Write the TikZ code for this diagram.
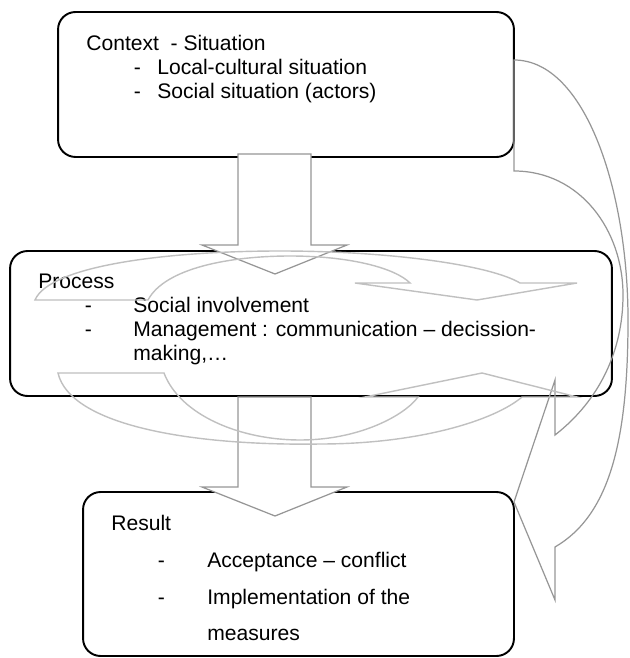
\documentclass[tikz,border=0pt]{standalone}
\usepackage{fontspec}
\setmainfont{Liberation Sans}
\usepackage{tikz}
\usetikzlibrary{positioning}
\definecolor{blockgray}{RGB}{150,150,150}
\definecolor{cyclegray}{RGB}{192,192,192}

\begin{document}
\begin{tikzpicture}[x=0.02cm,y=-0.02cm,
    box/.style={rectangle,rounded corners=0.35cm,draw=black,line width=1.1pt,fill=white,inner sep=0pt},
    txt/.style={anchor=base west,inner sep=0pt,font=\fontsize{12}{14}\selectfont},
    blockarrow/.style={draw=blockgray,fill=white,line width=0.7pt,line join=miter},
    cyclearrow/.style={draw=cyclegray,line width=0.8pt}
]
    \useasboundingbox (0,0) rectangle (629,658);

    % Boxes
    \node[box,minimum width=9.12cm,minimum height=2.9cm] (context) at (286,84.5) {};
    \node[box,minimum width=12.04cm,minimum height=2.9cm] (process) at (311,323.5) {};
    \node[box,minimum width=8.62cm,minimum height=3.28cm] (result) at (298.5,574) {};

    % Texts
    \node[txt] (ctxtitle) at (86,50.5) {Context\ \ - Situation};
    \node[txt] (ctxlocal) at (133.5,74.5) {\makebox[0.47cm][l]{-}Local-cultural situation};
    \node[txt] (ctxsocial) at (133.5,98.5) {\makebox[0.47cm][l]{-}Social situation (actors)};

    \node[txt] (proctitle) at (38,288.5) {Process};
    \node[txt] (procsocial) at (84.5,312.5) {\makebox[0.97cm][l]{-}Social involvement};
    \node[txt] (procmgmt) at (84.5,336.5) {\makebox[0.97cm][l]{-}Management : communication – decission-};
    \node[txt] (procmaking) at (133,360.5) {making,…};

    \node[txt] (restitle) at (111,530.5) {Result};
    \node[txt] (resaccept) at (157.5,567.5) {\makebox[0.99cm][l]{-}Acceptance – conflict};
    \node[txt] (resimpl) at (157.5,604.5) {\makebox[0.99cm][l]{-}Implementation of the};
    \node[txt] (resmeasures) at (207,640.5) {measures};

    % Block arrows between the boxes
    \draw[blockarrow] (238,154) -- (238,245) -- (202,245) -- (275,274) -- (347,245) -- (311,245) -- (311,154) -- cycle;
    \draw[blockarrow] (238,397) -- (238,487) -- (202,487) -- (275,516) -- (347,487) -- (311,487) -- (311,397) -- cycle;

    % Feedback arrow on the right
    \draw[blockarrow,fill=none] (514,60) .. controls (585,60) and (628,190) .. (628,320)
        .. controls (628,440) and (610,515) .. (555,547) -- (555,600) -- (514,502) -- (555,380) -- (555,435)
        .. controls (600,400) and (623,350) .. (623,295) .. controls (623,230) and (580,171) .. (514,171) -- cycle;

    % Cycle inside the process
    \draw[cyclearrow] (35,300) .. controls (50,265) and (170,251) .. (280,251) .. controls (390,251) and (490,265) .. (520,283)
        -- (577,283) -- (477,300) -- (355,283) -- (410,283)
        .. controls (395,268) and (350,256) .. (290,256) .. controls (230,256) and (165,268) .. (148,300) -- cycle;
    \draw[cyclearrow] (58,373) .. controls (70,425) and (190,446) .. (320,444) .. controls (420,444) and (495,420) .. (522,397)
        -- (577,397) -- (482,373) -- (365,397) -- (418,397)
        .. controls (405,415) and (360,440) .. (300,440) .. controls (240,440) and (180,415) .. (164,373) -- cycle;
\end{tikzpicture}
\end{document}
